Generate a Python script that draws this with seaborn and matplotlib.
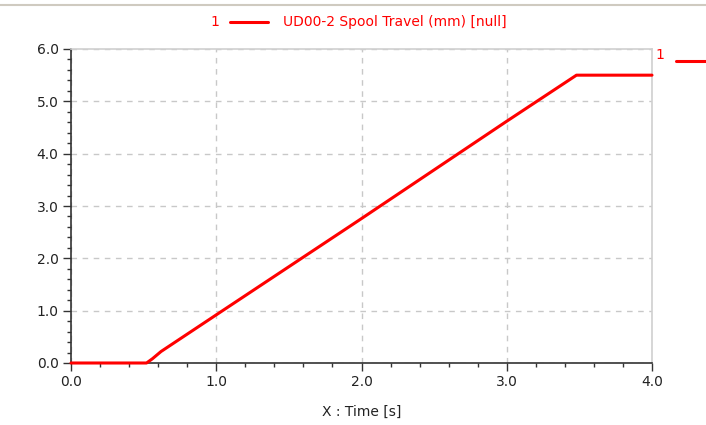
import matplotlib
matplotlib.use("Agg")
import matplotlib.pyplot as plt
from matplotlib.ticker import MultipleLocator, FormatStrFormatter
import seaborn as sns
import pandas as pd

time_s = [0.0, 0.52, 0.56, 0.62, 1.0, 2.0, 3.0, 3.48, 4.0]
spool_mm = [0.0, 0.0, 0.08, 0.22, 0.92, 2.76, 4.62, 5.5, 5.5]
series_name = "UD00-2 Spool Travel (mm) [null]"

df = pd.DataFrame({"time": time_s, "travel": spool_mm})

sns.set_theme(style="white")
plt.rcParams['font.family'] = ['DejaVu Sans']

FS = 10

fig = plt.figure(figsize=(7.06, 4.25), dpi=100)
ax = fig.add_axes([71/706, 1 - 363/425, (652-71)/706, (363-49)/425])

sns.lineplot(data=df, x="time", y="travel", ax=ax, color="#ff0000", linewidth=2.2)
for ln in ax.get_lines():
    ln.set_zorder(5)
    ln.set_clip_on(False)

ax.set_xlim(0, 4.0)
ax.set_ylim(0, 6.0)
ax.xaxis.set_major_locator(MultipleLocator(1.0))
ax.xaxis.set_minor_locator(MultipleLocator(0.2))
ax.yaxis.set_major_locator(MultipleLocator(1.0))
ax.yaxis.set_minor_locator(MultipleLocator(0.2))
ax.xaxis.set_major_formatter(FormatStrFormatter("%.1f"))
ax.yaxis.set_major_formatter(FormatStrFormatter("%.1f"))
ax.tick_params(axis="both", which="major", direction="out", length=6, width=1,
               color="#333333", labelsize=FS, labelcolor="#222222", pad=3)
ax.tick_params(axis="both", which="minor", direction="out", length=3, width=1,
               color="#333333")
ax.tick_params(axis="x", which="both", bottom=True)
ax.tick_params(axis="y", which="both", left=True)

ax.grid(True, which="major", linestyle=(0, (4, 4)), color="#c8c8c8", linewidth=1)
for s in ["left", "bottom"]:
    ax.spines[s].set_color("#333333")
    ax.spines[s].set_linewidth(1.2)
for s in ["top", "right"]:
    ax.spines[s].set_color("#d0d0d0")
    ax.spines[s].set_linewidth(1.2)

ax.set_xlabel("X : Time [s]", fontsize=FS, color="#222222", labelpad=11)
ax.set_ylabel("")

# top legend
fig.text(215/706, 1 - 22/425, "1", color="#ff0000", fontsize=FS, va="center", ha="center")
fig.add_artist(plt.Line2D([230/706, 268/706], [1 - 22/425, 1 - 22/425],
                          color="#ff0000", linewidth=2.2))
fig.text(283/706, 1 - 22/425, series_name, color="#ff0000", fontsize=FS,
         va="center", ha="left")
# top separator line
fig.add_artist(plt.Line2D([0, 1], [1 - 5/425, 1 - 5/425], color="#cfcac0", linewidth=1.5))

# right-side legend
fig.text(660/706, 1 - 55/425, "1", color="#ff0000", fontsize=FS, va="center", ha="center")
fig.add_artist(plt.Line2D([676/706, 706/706], [1 - 61/425, 1 - 61/425],
                          color="#ff0000", linewidth=2.2))

fig.savefig("out.png", dpi=100)
